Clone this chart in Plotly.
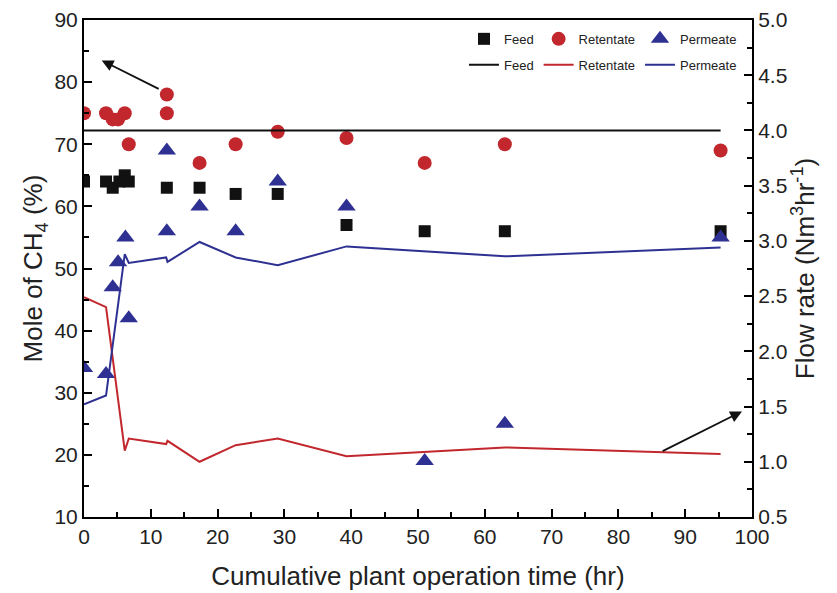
import plotly.graph_objects as go

# ---- data ----
feed_time = [0, 3.3, 4.3, 5.3, 6.1, 6.7, 12.4, 17.3, 22.7, 29.0, 39.3, 51.0, 63.0, 95.3]
feed_ch4 = [64, 64, 63, 64, 65, 64, 63, 63, 62, 62, 57, 56, 56, 56]

ret_time = [0, 3.3, 4.3, 5.1, 6.1, 6.7, 12.4, 12.4, 17.3, 22.7, 29.0, 39.3, 51.0, 63.0, 95.3]
ret_ch4 = [75, 75, 74, 74, 75, 70, 78, 75, 67, 70, 72, 71, 67, 70, 69]

perm_time = [0, 3.3, 4.3, 5.1, 6.2, 6.7, 12.4, 12.4, 17.3, 22.7, 29.0, 39.3, 51.0, 63.0, 95.3]
perm_ch4 = [34, 33, 47, 51, 55, 42, 69, 56, 60, 56, 64, 60, 19, 25, 55]

flow_feed_time = [0, 95.3]
flow_feed = [4.0, 4.0]

flow_time = [0, 3.3, 6.1, 6.7, 12.3, 12.5, 17.3, 22.7, 29.0, 39.3, 63.0, 95.3]
flow_ret = [2.49, 2.40, 1.10, 1.21, 1.16, 1.19, 1.00, 1.15, 1.21, 1.05, 1.13, 1.07]
flow_perm = [1.52, 1.60, 2.88, 2.80, 2.85, 2.81, 2.99, 2.85, 2.78, 2.95, 2.86, 2.94]

x_ticks = list(range(0, 101, 10))

BLACK = "#111111"
RED = "#c1272d"
BLUE = "#2e3192"
FONT = "Arial, Liberation Sans, sans-serif"

fig = go.Figure()

fig.add_trace(go.Scatter(x=feed_time, y=feed_ch4, mode="markers", name="Feed",
                         marker=dict(symbol="square", size=12, color=BLACK),
                         legend="legend"))
fig.add_trace(go.Scatter(x=ret_time, y=ret_ch4, mode="markers", name="Retentate",
                         marker=dict(symbol="circle", size=14, color=RED),
                         legend="legend"))
fig.add_trace(go.Scatter(x=perm_time, y=perm_ch4, mode="markers", name="Permeate",
                         marker=dict(symbol="triangle-up", size=16, color=BLUE),
                         legend="legend"))

fig.add_trace(go.Scatter(x=flow_feed_time, y=flow_feed, mode="lines", name="Feed",
                         line=dict(color=BLACK, width=2), yaxis="y2", legend="legend2"))
fig.add_trace(go.Scatter(x=flow_time, y=flow_ret, mode="lines", name="Retentate",
                         line=dict(color=RED, width=2), yaxis="y2", legend="legend2"))
fig.add_trace(go.Scatter(x=flow_time, y=flow_perm, mode="lines", name="Permeate",
                         line=dict(color=BLUE, width=2), yaxis="y2", legend="legend2"))

axis_common = dict(showline=True, linewidth=2, linecolor="black", showgrid=False,
                   zeroline=False, ticks="inside", ticklen=8, tickwidth=2, automargin=False,
                   ticklabeloverflow="allow",
                   tickcolor="black", tickfont=dict(size=21, color="#222", family=FONT))
minor_common = dict(ticks="inside", ticklen=5, tickwidth=1.5, tickcolor="black")

fig.update_layout(
    width=829, height=585,
    margin=dict(l=76, r=85, t=12, b=76, autoexpand=False),
    paper_bgcolor="white", plot_bgcolor="white",
    font=dict(family=FONT, color="#222"),
    xaxis=dict(range=[0, 100], tickvals=x_ticks, mirror=True,
               minor=dict(dtick=5, **minor_common),
               title=dict(text="Cumulative plant operation time (hr)", font=dict(size=26, family=FONT),
                          standoff=20),
               **axis_common),
    yaxis=dict(range=[10, 90], dtick=10,
               minor=dict(dtick=5, **minor_common),
               title=dict(text="Mole of CH<sub>4</sub> (%)", font=dict(size=26, family=FONT),
                          standoff=4),
               **axis_common),
    yaxis2=dict(range=[0.5, 5.0], dtick=0.5, tickformat=".1f", overlaying="y", side="right",
                minor=dict(dtick=0.25, **minor_common),
                title=dict(text="Flow rate (Nm<sup>3</sup>hr<sup>-1</sup>)", font=dict(size=26, family=FONT),
                           standoff=2),
                **axis_common),
    legend=dict(orientation="h", x=0.985, xanchor="right", y=0.962, yanchor="middle",
                bgcolor="rgba(0,0,0,0)", font=dict(size=13, family=FONT, color="#222"),
                itemwidth=30, traceorder="normal"),
    legend2=dict(orientation="h", x=0.985, xanchor="right", y=0.91, yanchor="middle",
                 bgcolor="rgba(0,0,0,0)", font=dict(size=13, family=FONT, color="#222"),
                 itemwidth=30, traceorder="normal"),
    annotations=[
        dict(x=2.65, y=83.5, ax=11.4, ay=78.8, xref="x", yref="y", axref="x", ayref="y",
             text="", showarrow=True, arrowhead=2, arrowsize=1.3, arrowwidth=1.8, arrowcolor=BLACK),
        dict(x=98.5, y=1.456, ax=86.4, ay=1.09, xref="x", yref="y2", axref="x", ayref="y2",
             text="", showarrow=True, arrowhead=2, arrowsize=1.3, arrowwidth=1.8, arrowcolor=BLACK),
    ],
)

fig.write_html("out.html")
